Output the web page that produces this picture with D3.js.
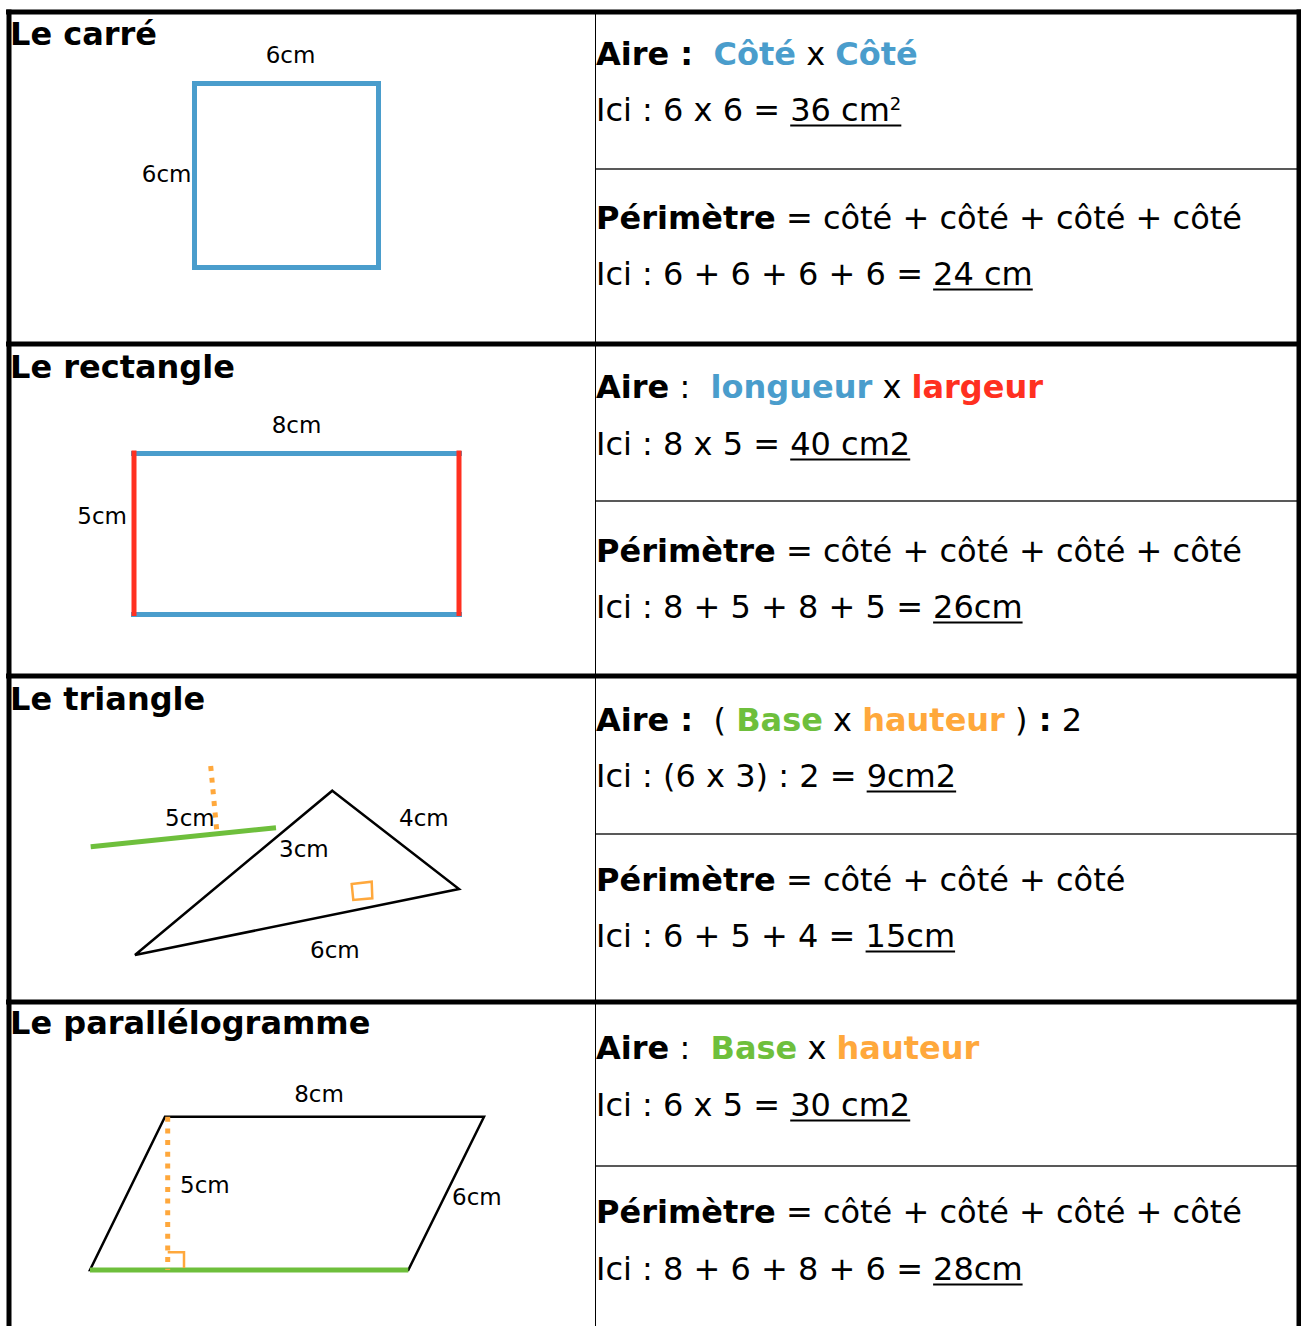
<!DOCTYPE html>
<html>
<head>
<meta charset="utf-8">
<script src="https://cdn.jsdelivr.net/npm/d3@7"></script>
<style>
  body { margin: 0; background: #fff; }
  svg { display: block; }
</style>
</head>
<body>
<div id="chart"></div>
<script>
// ************** formules : aire et périmètre *****************
var shapeNames = ["Le carré", "Le rectangle", "Le triangle", "Le parallélogramme"];

// côtés en cm
var squareSides = [6, 6];
var rectSides = [8, 5];
var squareLabels = ["6cm", "6cm"];
var rectLabels = ["8cm", "5cm"];
var triLabels = ["5cm", "4cm", "3cm", "6cm"];
var paraLabels = ["8cm", "5cm", "6cm"];

// segments de texte : [texte, rôle]
var aireLines = [
  [["Aire :", "key"], ["  ", "txt"], ["Côté", "blue"], [" x ", "txt"], ["Côté", "blue"]],
  [["Aire", "key"], [" :  ", "txt"], ["longueur", "blue"], [" x ", "txt"], ["largeur", "red"]],
  [["Aire :", "key"], ["  ( ", "txt"], ["Base", "green"], [" x ", "txt"], ["hauteur", "orange"], [" )", "txt"], [" :", "key"], [" 2", "txt"]],
  [["Aire", "key"], [" :  ", "txt"], ["Base", "green"], [" x ", "txt"], ["hauteur", "orange"]]
];
var aireIci = [
  [["Ici : 6 x 6 = ", "txt"], ["36 cm", "res"], ["2", "sup"]],
  [["Ici : 8 x 5 = ", "txt"], ["40 cm2", "res"]],
  [["Ici : (6 x 3) : 2 = ", "txt"], ["9cm2", "res"]],
  [["Ici : 6 x 5 = ", "txt"], ["30 cm2", "res"]]
];
var perimLines = [
  [["Périmètre", "key"], [" = côté + côté + côté + côté", "txt"]],
  [["Périmètre", "key"], [" = côté + côté + côté + côté", "txt"]],
  [["Périmètre", "key"], [" = côté + côté + côté", "txt"]],
  [["Périmètre", "key"], [" = côté + côté + côté + côté", "txt"]]
];
var perimIci = [
  [["Ici : 6 + 6 + 6 + 6 = ", "txt"], ["24 cm", "res"]],
  [["Ici : 8 + 5 + 8 + 5 = ", "txt"], ["26cm", "res"]],
  [["Ici : 6 + 5 + 4 = ", "txt"], ["15cm", "res"]],
  [["Ici : 8 + 6 + 8 + 6 = ", "txt"], ["28cm", "res"]]
];

// ---- mise en page ----
var width = 1301, height = 1326;
var colX = 595.5, leftX = 9, rightX = 1299;
var rowTops = [12, 344, 676, 1002];
var titleDy = [33, 34, 34, 32];
var textDy = [[53, 109, 157, 217, 273],
              [54, 111, 157, 218, 274],
              [55, 111, 158, 215, 271],
              [57, 114, 164, 221, 278]];

var BLUE = "#4a9dcc", RED = "#ff3020", GREEN = "#6ebf3c", ORANGE = "#ffa83c";
var roleStyle = {
  key:    {weight: "bold",   fill: "#000"},
  txt:    {weight: "normal", fill: "#000"},
  res:    {weight: "normal", fill: "#000"},
  sup:    {weight: "normal", fill: "#000", size: 18, shift: -11},
  blue:   {weight: "bold",   fill: BLUE},
  red:    {weight: "bold",   fill: RED},
  green:  {weight: "bold",   fill: GREEN},
  orange: {weight: "bold",   fill: ORANGE}
};

var svg = d3.select("#chart").append("svg")
    .attr("width", width)
    .attr("height", height)
    .style("font-family", "'DejaVu Sans', sans-serif");

// ---- grille du tableau ----
var grid = svg.append("g");
grid.selectAll("line.thin")
    .data(rowTops)
  .enter().append("line")
    .attr("x1", colX).attr("x2", rightX)
    .attr("y1", function(d, i) { return d + textDy[i][2]; })
    .attr("y2", function(d, i) { return d + textDy[i][2]; })
    .attr("stroke", "#222").attr("stroke-width", 1.5);
grid.append("line")
    .attr("x1", colX).attr("x2", colX)
    .attr("y1", rowTops[0]).attr("y2", height)
    .attr("stroke", "#000").attr("stroke-width", 1);
grid.selectAll("line.thick")
    .data(rowTops)
  .enter().append("line")
    .attr("x1", 6).attr("x2", width)
    .attr("y1", function(d) { return d; })
    .attr("y2", function(d) { return d; })
    .attr("stroke", "#000").attr("stroke-width", 5);
[leftX, rightX].forEach(function(x) {
  grid.append("line")
    .attr("x1", x).attr("x2", x)
    .attr("y1", rowTops[0] - 2.5).attr("y2", height)
    .attr("stroke", "#000").attr("stroke-width", 5);
});

// ---- titres ----
svg.selectAll("text.title")
    .data(shapeNames)
  .enter().append("text")
    .attr("class", "title")
    .attr("x", 10)
    .attr("y", function(d, i) { return rowTops[i] + titleDy[i]; })
    .attr("font-size", 32)
    .attr("font-weight", "bold")
    .text(function(d) { return d; });

// ligne de texte composée de segments
function writeLine(segs, x, y) {
  var g = svg.append("g");
  var ulStart = null;
  segs.forEach(function(s) {
    var st = roleStyle[s[1]];
    var t = g.append("text")
      .attr("x", x).attr("y", y + (st.shift || 0))
      .attr("font-size", st.size || 32)
      .attr("font-weight", st.weight)
      .attr("fill", st.fill)
      .attr("xml:space", "preserve")
      .style("white-space", "pre")
      .text(s[0]);
    var w = t.node().getComputedTextLength();
    if (s[1] === "res" || s[1] === "sup") {
      if (ulStart === null) ulStart = x;
    }
    x += w;
  });
  if (ulStart !== null) {
    g.append("line")
      .attr("x1", ulStart).attr("x2", x)
      .attr("y1", y + 4.5).attr("y2", y + 4.5)
      .attr("stroke", "#000").attr("stroke-width", 2);
  }
}

var textX = 596;
rowTops.forEach(function(top, i) {
  writeLine(aireLines[i], textX, top + textDy[i][0]);
  writeLine(aireIci[i], textX, top + textDy[i][1]);
  writeLine(perimLines[i], textX, top + textDy[i][3]);
  writeLine(perimIci[i], textX, top + textDy[i][4]);
});

function label(g, txt, x, y, anchor) {
  g.append("text")
    .attr("x", x).attr("y", y)
    .attr("font-size", 23)
    .attr("text-anchor", anchor || "start")
    .text(txt);
}

// ---- le carré ----
var gSq = svg.append("g");
var sx = d3.scaleLinear().domain([0, squareSides[0]]).range([194.5, 378.5]);
var sy = d3.scaleLinear().domain([0, squareSides[1]]).range([83.5, 267.5]);
gSq.append("rect")
    .attr("x", sx(0)).attr("y", sy(0))
    .attr("width", sx(squareSides[0]) - sx(0))
    .attr("height", sy(squareSides[1]) - sy(0))
    .attr("fill", "none").attr("stroke", BLUE).attr("stroke-width", 5);
label(gSq, squareLabels[0], sx(squareSides[0] / 2) + 4, sy(0) - 20.5, "middle");
label(gSq, squareLabels[1], sx(0) - 3, sy(squareSides[1] / 2) + 6, "end");

// ---- le rectangle ----
var gRe = svg.append("g");
var rx = d3.scaleLinear().domain([0, rectSides[0]]).range([134, 459]);
var ry = d3.scaleLinear().domain([0, rectSides[1]]).range([453.5, 614.5]);
[0, rectSides[1]].forEach(function(v) {
  gRe.append("line")
    .attr("x1", rx(0) - 3).attr("x2", rx(rectSides[0]) + 3)
    .attr("y1", ry(v)).attr("y2", ry(v))
    .attr("stroke", BLUE).attr("stroke-width", 5);
});
[0, rectSides[0]].forEach(function(v) {
  gRe.append("line")
    .attr("x1", rx(v)).attr("x2", rx(v))
    .attr("y1", ry(0) - 3).attr("y2", ry(rectSides[1]) + 1.5)
    .attr("stroke", RED).attr("stroke-width", 5);
});
label(gRe, rectLabels[0], rx(rectSides[0] / 2), ry(0) - 21, "middle");
label(gRe, rectLabels[1], rx(0) - 7, ry(rectSides[1] / 2) - 10, "end");

// ---- le triangle (coordonnées locales de la cellule) ----
var gTr = svg.append("g");
var tx = d3.scaleLinear().domain([0, 583]).range([12, 595]);
var ty = d3.scaleLinear().domain([0, 326]).range([rowTops[2], rowTops[3]]);
var triPts = [[320.3, 114.7], [447, 213], [123, 279]];
var line = d3.line().x(function(d) { return tx(d[0]); }).y(function(d) { return ty(d[1]); });
gTr.append("path")
    .attr("d", line(triPts) + "Z")
    .attr("fill", "none").attr("stroke", "#000").attr("stroke-width", 2.5)
    .attr("stroke-linejoin", "miter");
gTr.append("path")
    .attr("d", line([[78.7, 170.7], [264, 151.7]]))
    .attr("stroke", GREEN).attr("stroke-width", 5);
gTr.append("path")
    .attr("d", line([[198.7, 90], [204.7, 154]]))
    .attr("stroke", ORANGE).attr("stroke-width", 5).attr("stroke-dasharray", "5,6.7");
gTr.append("path")
    .attr("d", line([[339.7, 208], [359.7, 205.7], [360.3, 222.3], [341.3, 224]]) + "Z")
    .attr("fill", "none").attr("stroke", ORANGE).attr("stroke-width", 2.5);
label(gTr, triLabels[0], tx(153), ty(150));
label(gTr, triLabels[1], tx(387), ty(150));
label(gTr, triLabels[2], tx(267), ty(181));
label(gTr, triLabels[3], tx(298), ty(282));

// ---- le parallélogramme ----
var gPa = svg.append("g");
var py = d3.scaleLinear().domain([0, 326]).range([rowTops[3], rowTops[3] + 326]);
var pline = d3.line().x(function(d) { return tx(d[0]); }).y(function(d) { return py(d[1]); });
var paraPts = [[153, 114.7], [472, 114.7], [396.3, 268], [78, 268]];
gPa.append("path")
    .attr("d", pline(paraPts) + "Z")
    .attr("fill", "none").attr("stroke", "#000").attr("stroke-width", 2.5);
gPa.append("path")
    .attr("d", pline([[78, 268], [396.3, 268]]))
    .attr("stroke", GREEN).attr("stroke-width", 5);
gPa.append("path")
    .attr("d", pline([[155.7, 114.7], [155.7, 268]]))
    .attr("stroke", ORANGE).attr("stroke-width", 5).attr("stroke-dasharray", "5,6.7");
gPa.append("path")
    .attr("d", pline([[155.7, 250.3], [172, 250.3], [172, 266]]))
    .attr("fill", "none").attr("stroke", ORANGE).attr("stroke-width", 2.5);
label(gPa, paraLabels[0], tx(307), py(99.7), "middle");
label(gPa, paraLabels[1], tx(168), py(191));
label(gPa, paraLabels[2], tx(440), py(203));
</script>
</body>
</html>
